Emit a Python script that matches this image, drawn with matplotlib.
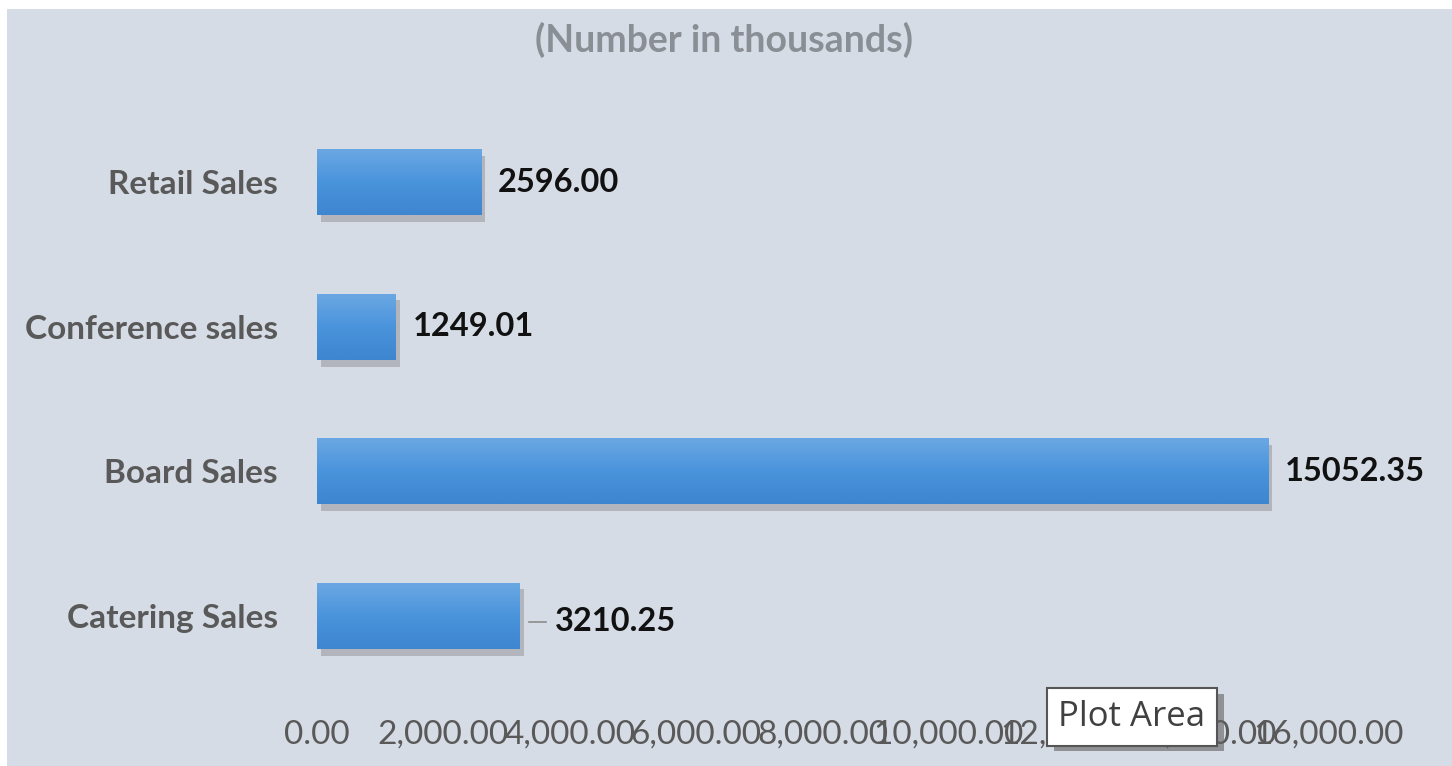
import numpy as np
import matplotlib.pyplot as plt
import matplotlib.patheffects as pe
from matplotlib.patches import Rectangle
from matplotlib.colors import LinearSegmentedColormap
from matplotlib.ticker import FuncFormatter

# sales by channel, in thousands
categories = ['Catering Sales', 'Board Sales', 'Conference sales', 'Retail Sales']
values = [3210.25, 15052.35, 1249.01, 2596.00]
xticks = [0, 2000, 4000, 6000, 8000, 10000, 12000, 14000, 16000]

plt.rcParams['font.family'] = ['Lato', 'DejaVu Sans']

fig = plt.figure(figsize=(14.52, 7.66), dpi=100, facecolor='white')
# chart area background
fig.patches.append(Rectangle((7 / 1452, 0), 1, 1 - 9 / 766, transform=fig.transFigure,
                             facecolor='#d6dce5', edgecolor='none', zorder=-5))

ax = fig.add_axes([317 / 1452, 1 - 688 / 766, 1011 / 1452, 578 / 766])
ax.set_facecolor('none')

bar_h = 0.46
shadow = [pe.SimplePatchShadow(offset=(3, -5), shadow_rgbFace='#707070', alpha=0.35), pe.Normal()]
bars = ax.barh(categories, values, height=bar_h, color='#4a92dc', zorder=3)

# vertical gradient inside each bar
grad_cmap = LinearSegmentedColormap.from_list('bar', ['#3e86cf', '#4a94dc', '#6ca8e3'])
grad = np.linspace(0, 1, 64).reshape(-1, 1)
for b in bars:
    b.set_path_effects(shadow)
    x0, y0 = b.get_x(), b.get_y()
    im = ax.imshow(grad, cmap=grad_cmap, origin='lower', aspect='auto', zorder=4,
                   extent=(x0, x0 + b.get_width(), y0, y0 + b.get_height()))
    im.set_clip_path(b)

ax.set_xlim(0, 16000)
ax.set_ylim(-0.5, len(categories) - 0.5)
ax.set_xticks(xticks)
ax.xaxis.set_major_formatter(FuncFormatter(lambda v, p: f'{v:,.2f}'))
ax.tick_params(axis='x', length=0, labelsize=24, labelcolor='#595959', pad=23)
ax.tick_params(axis='y', length=0, labelsize=24, labelcolor='#595959', pad=28)
for lbl in ax.get_yticklabels():
    lbl.set_fontweight('bold')
for s in ax.spines.values():
    s.set_visible(False)

# value labels
for i, v in enumerate(values):
    if categories[i] == 'Catering Sales':
        ax.plot([v + 150, v + 420], [i - 0.04, i - 0.04], color='#8c8c8c', lw=1.2, zorder=3)
        ax.text(v + 560, i - 0.04, f'{v:.2f}', va='center', ha='left',
                fontsize=23.5, fontweight='bold', color='#111111')
    else:
        ax.text(v + 260, i, f'{v:.2f}', va='center', ha='left',
                fontsize=23.5, fontweight='bold', color='#111111')

fig.text(724 / 1452, 1 - 40 / 766, '(Number in thousands)', ha='center', va='center',
         fontsize=27, fontweight='bold', color='#8a8f96')

# hover tooltip with a small drop shadow
tip = fig.text(1132 / 1452, 1 - 717 / 766, 'Plot Area', ha='center', va='center', fontsize=25,
               color='#404040', family=['Open Sans', 'DejaVu Sans'],
               bbox=dict(boxstyle='square,pad=0.34', facecolor='white', edgecolor='#555555', lw=1.5))
tip.get_bbox_patch().set_path_effects(
    [pe.SimplePatchShadow(offset=(5, -4), shadow_rgbFace='#606060', alpha=0.6), pe.Normal()])

fig.savefig('out.png', dpi=100, facecolor=fig.get_facecolor())
